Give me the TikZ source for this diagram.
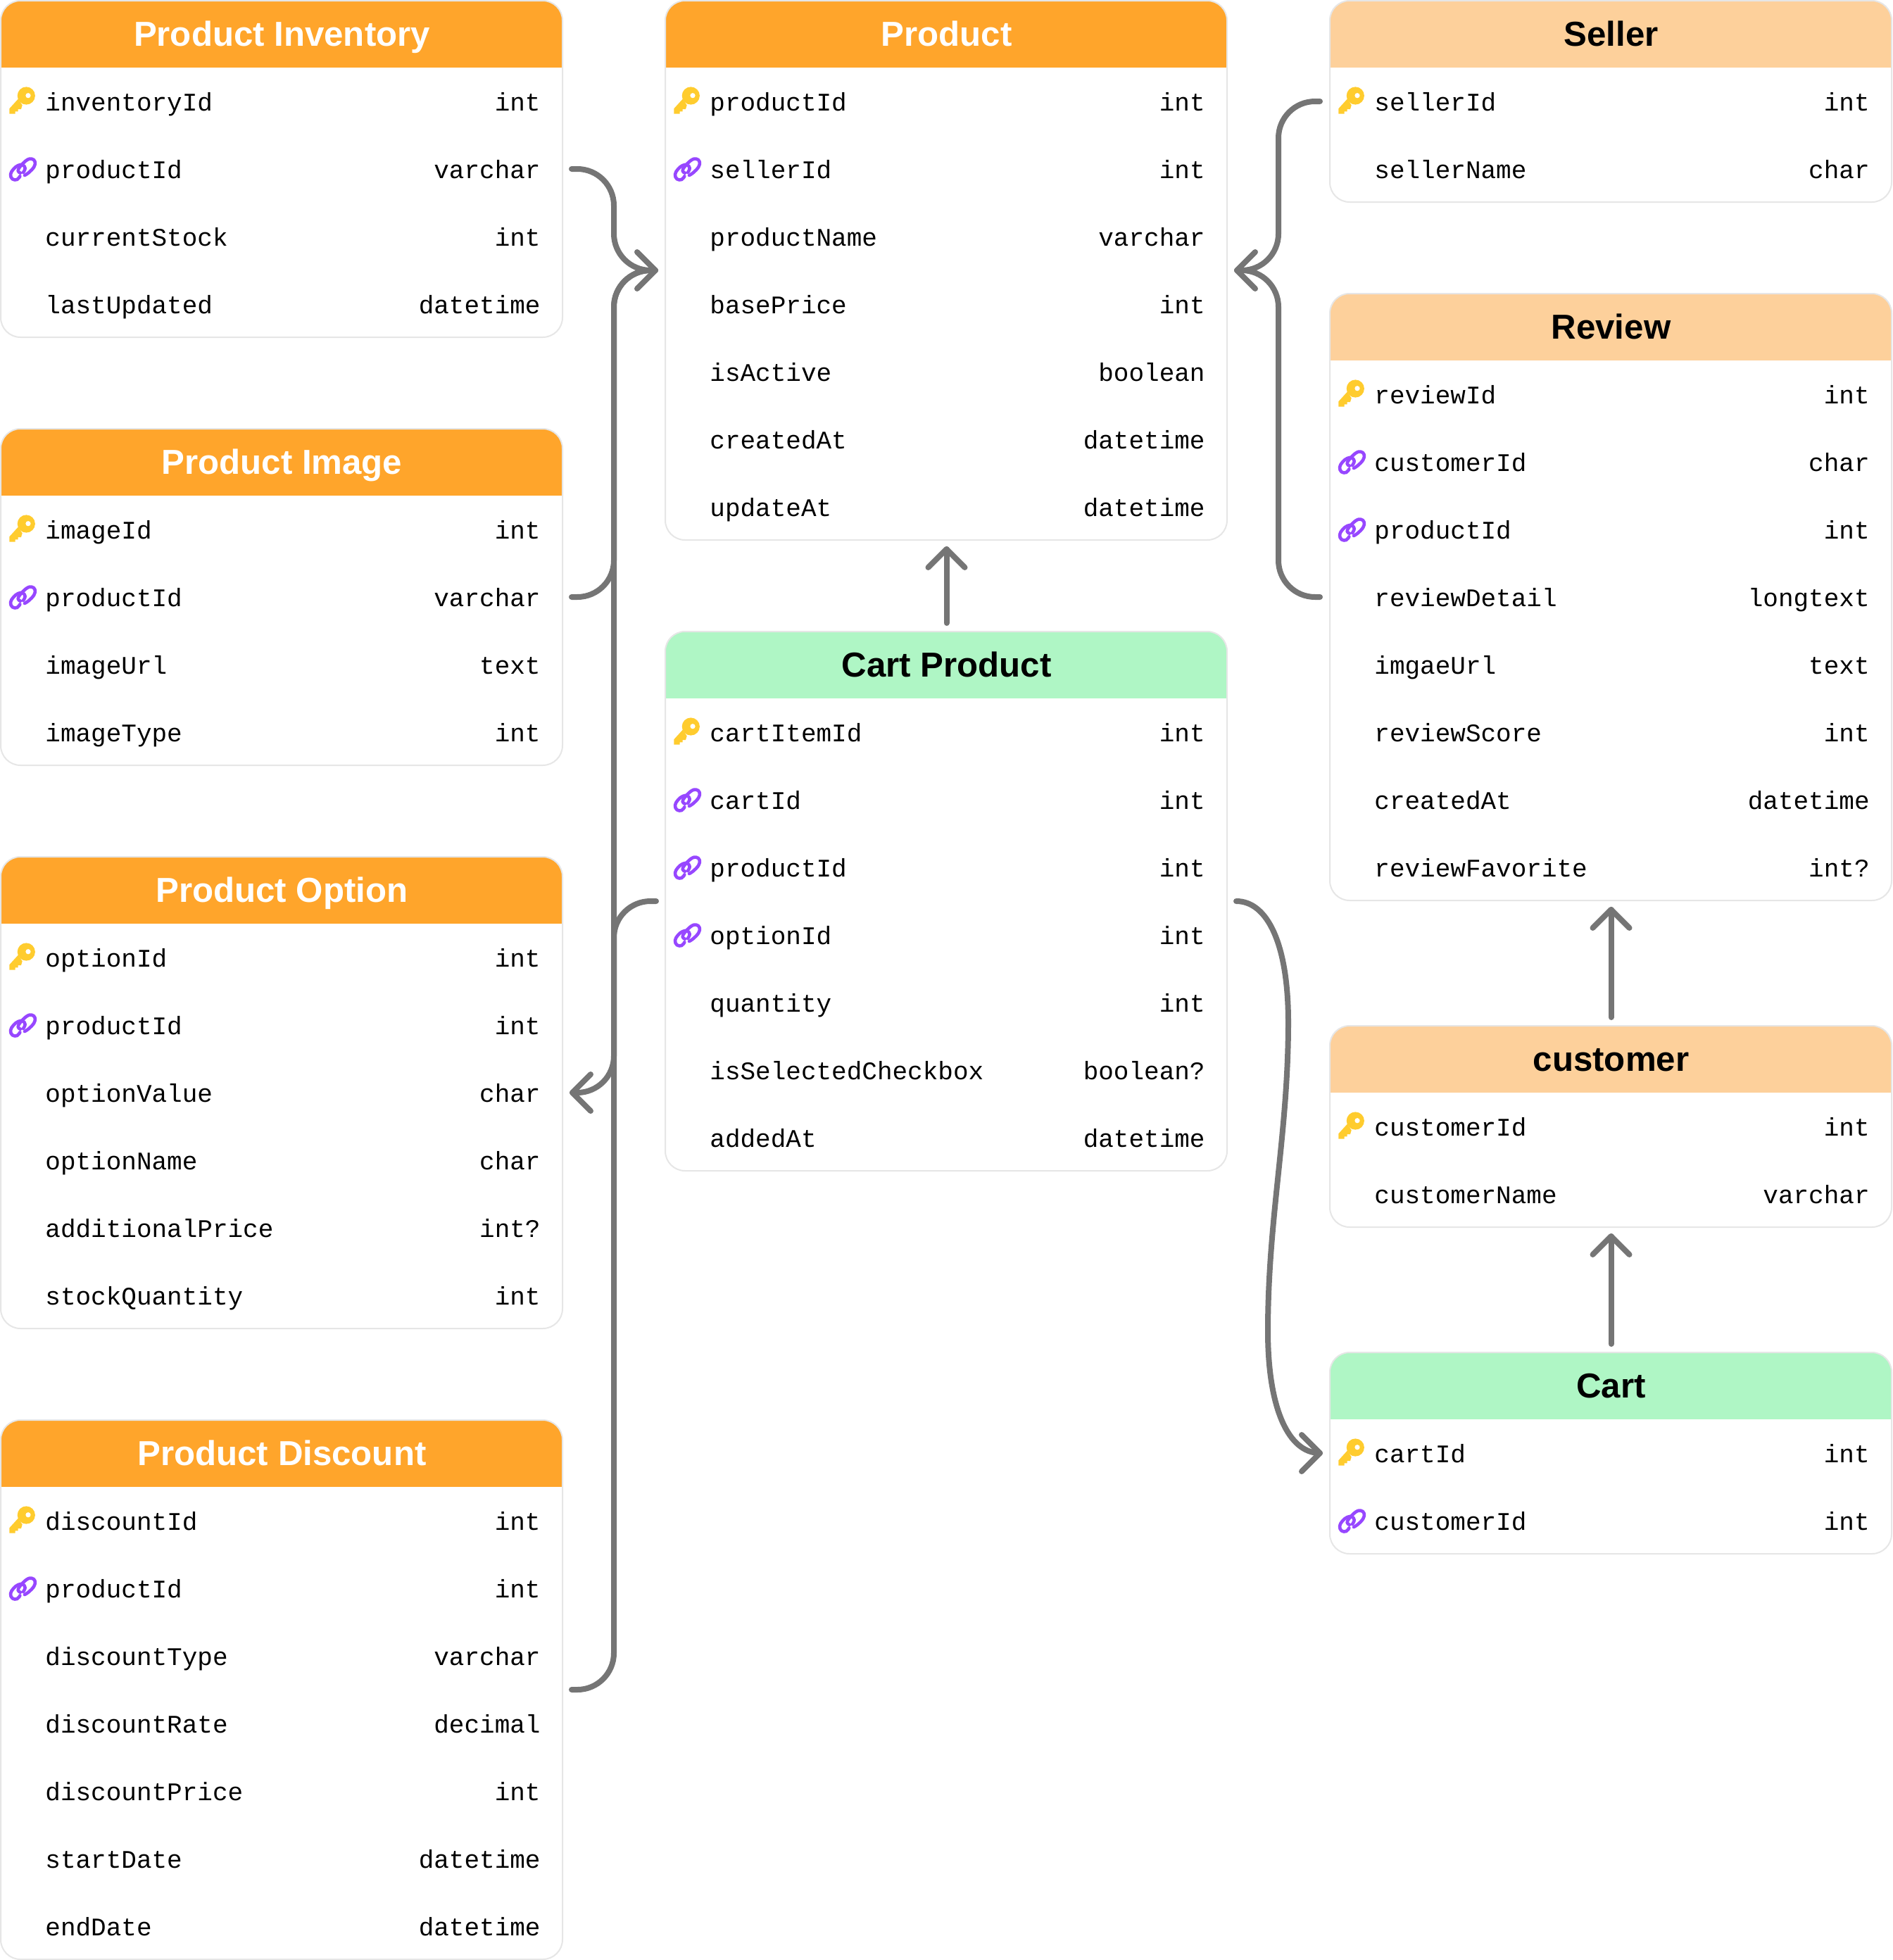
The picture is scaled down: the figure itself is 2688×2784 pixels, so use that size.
\documentclass[tikz,border=0pt]{standalone}
\usepackage{fontspec}
\setmainfont{Liberation Sans}
\setmonofont{Liberation Mono}
\usetikzlibrary{calc}
\definecolor{hdrorange}{HTML}{FFA52B}
\definecolor{hdrpeach}{HTML}{FDD09B}
\definecolor{hdrgreen}{HTML}{AFF6C5}
\definecolor{bordergrey}{HTML}{E6E6E6}
\definecolor{conngrey}{HTML}{757575}
\definecolor{keygold}{HTML}{FFCC2E}
\definecolor{linkpurple}{HTML}{9747FF}
\tikzset{
  x=0.5pt,y=-0.5pt,
  tablebox/.style={draw=bordergrey,line width=1pt,rounded corners=14pt,minimum width=399pt,inner sep=0pt,outer sep=0pt},
  titletext/.style={anchor=base,font=\fontsize{24.6}{28}\selectfont\bfseries,inner sep=0pt},
  nametext/.style={anchor=base west,font=\fontsize{18}{22}\selectfont\ttfamily,text=black,inner sep=0pt},
  typetext/.style={anchor=base east,font=\fontsize{18}{22}\selectfont\ttfamily,text=black,inner sep=0pt},
  conn/.style={draw=conngrey,line width=4pt,line cap=round,line join=round,rounded corners=26pt},
  chevron/.style={draw=conngrey,line width=4pt,line cap=round,line join=round},
}
\newcommand{\erdiconk}[2]{%
  \begin{scope}[shift={(#1,#2)}]
    \fill[keygold] (37.3,-8) circle[radius=6.3pt];
    \fill[keygold] (25.7,-3.3) -- (13.3,10.3) -- (13.3,17.7) -- (21.7,17.7) -- (21.7,14.3) -- (25.7,14.3) -- (25.7,11) -- (30,11) -- (31.7,5.3) -- cycle;
    \fill[white] (40,-8.3) circle[radius=1.8pt];
  \end{scope}}
\newcommand{\erdiconl}[2]{%
  \begin{scope}[shift={(#1,#2)},shift={(5,-25)},x=0.1667pt,y=-0.1667pt]
    \draw[linkpurple,line width=2.3pt,line cap=round,line join=round]
      plot[smooth,tension=.7] coordinates {(70,106) (58,120) (38,118) (30,98) (42,76) (62,60) (82,58) (92,72) (84,90)};
    \draw[linkpurple,line width=2.3pt,line cap=round,line join=round]
      plot[smooth,tension=.7] coordinates {(72,92) (62,84) (70,66) (98,38) (120,32) (134,44) (130,66) (108,90) (90,102)};
  \end{scope}}
\newcommand{\erdiconn}[2]{}
% name, x, y, title, header colour, title colour, row count, rows
\newcommand{\erdtable}[8]{%
  \pgfmathsetmacro{\tblH}{96+96*#7}
  \fill[white,rounded corners=14pt] (#2+1,#3+1) rectangle (#2+799,#3+\tblH-1);
  \begin{scope}
    \clip[rounded corners=14pt] (#2+1,#3+1) rectangle (#2+799,#3+\tblH-1);
    \fill[#5] (#2,#3) rectangle (#2+800,#3+96);
  \end{scope}
  \node[tablebox,minimum height={(\tblH-2)*0.5pt}] (#1) at ({#2+400},{#3+\tblH/2}) {};
  \node[titletext,text=#6] (#1-title) at ({#2+400.5},{#3+65}) {#4};
  \foreach \k/\n/\t [count=\i] in {#8} {
    \pgfmathsetmacro{\rowc}{#3+96+96*(\i-1)+48}
    \pgfmathsetmacro{\rowb}{\rowc+13.5}
    \csname erdicon\k\endcsname{#2}{\rowc}
    \node[nametext] (#1-n\i) at ({#2+64},\rowb) {\n};
    \node[typetext] (#1-t\i) at ({#2+768},\rowb) {\t};
  }%
}
\begin{document}
\begin{tikzpicture}
\useasboundingbox (0,0) rectangle (2688,2784);
\erdtable{inventory}{0}{0}{Product Inventory}{hdrorange}{white}{4}{k/inventoryId/int,l/productId/varchar,n/currentStock/int,n/lastUpdated/datetime}
\erdtable{image}{0}{608}{Product Image}{hdrorange}{white}{4}{k/imageId/int,l/productId/varchar,n/imageUrl/text,n/imageType/int}
\erdtable{option}{0}{1216}{Product Option}{hdrorange}{white}{6}{k/optionId/int,l/productId/int,n/optionValue/char,n/optionName/char,n/additionalPrice/int?,n/stockQuantity/int}
\erdtable{discount}{0}{2016}{Product Discount}{hdrorange}{white}{7}{k/discountId/int,l/productId/int,n/discountType/varchar,n/discountRate/decimal,n/discountPrice/int,n/startDate/datetime,n/endDate/datetime}
\erdtable{product}{944}{0}{Product}{hdrorange}{white}{7}{k/productId/int,l/sellerId/int,n/productName/varchar,n/basePrice/int,n/isActive/boolean,n/createdAt/datetime,n/updateAt/datetime}
\erdtable{cartproduct}{944}{896}{Cart Product}{hdrgreen}{black}{7}{k/cartItemId/int,l/cartId/int,l/productId/int,l/optionId/int,n/quantity/int,n/isSelectedCheckbox/boolean?,n/addedAt/datetime}
\erdtable{seller}{1888}{0}{Seller}{hdrpeach}{black}{2}{k/sellerId/int,n/sellerName/char}
\erdtable{review}{1888}{416}{Review}{hdrpeach}{black}{8}{k/reviewId/int,l/customerId/char,l/productId/int,n/reviewDetail/longtext,n/imgaeUrl/text,n/reviewScore/int,n/createdAt/datetime,n/reviewFavorite/int?}
\erdtable{customer}{1888}{1456}{customer}{hdrpeach}{black}{2}{k/customerId/int,n/customerName/varchar}
\erdtable{cart}{1888}{1920}{Cart}{hdrgreen}{black}{2}{k/cartId/int,l/customerId/int}

\coordinate (busL) at (872,0);
\coordinate (busR) at (1816,0);
\coordinate (inS) at ($(inventory.east)+(13,0)$);
\coordinate (imS) at ($(image.east)+(13,0)$);
\coordinate (diS) at ($(discount.east)+(13,0)$);
\coordinate (opT) at ($(option.east)+(14,0)$);
\coordinate (prL) at ($(product.west)+(-14,0)$);
\coordinate (prR) at ($(product.east)+(14,0)$);
\coordinate (cpL) at ($(cartproduct.west)+(-13,0)$);
\coordinate (cpR) at ($(cartproduct.east)+(13,0)$);
\coordinate (seS) at ($(seller.west)+(-14,0)$);
\coordinate (reS) at ($(review.west)+(-14,0)$);
\coordinate (caT) at ($(cart.west)+(-14,0)$);

% left bus
\draw[conn] (inS) -- (inS -| busL) -- (prL -| busL) -- (prL);
\draw[conn] (imS) -- (imS -| busL) -- (prL -| busL) -- (prL);
\draw[conn] (diS) -- (diS -| busL) -- (prL -| busL) -- (prL);
\draw[conn] (cpL) -- (cpL -| busL) -- (opT -| busL) -- (opT);
\draw[chevron] ($(prL)+(-26,-26)$) -- (prL) -- ($(prL)+(-26,26)$);
\draw[chevron] ($(opT)+(26,-26)$) -- (opT) -- ($(opT)+(26,26)$);
% right bus
\draw[conn] (seS) -- (seS -| busR) -- (prR -| busR) -- (prR);
\draw[conn] (reS) -- (reS -| busR) -- (prR -| busR) -- (prR);
\draw[chevron] ($(prR)+(26,-26)$) -- (prR) -- ($(prR)+(26,26)$);
% cart product to product
\coordinate (a1) at ($(cartproduct.north)+(0.5,-12)$);
\coordinate (a2) at ($(product.south)+(0.5,13)$);
\draw[chevron] (a1) -- (a2);
\draw[chevron] ($(a2)+(-26,26)$) -- (a2) -- ($(a2)+(26,26)$);
% customer to review
\coordinate (b1) at ($(customer.north)+(0.5,-12)$);
\coordinate (b2) at ($(review.south)+(0.5,13)$);
\draw[chevron] (b1) -- (b2);
\draw[chevron] ($(b2)+(-26,26)$) -- (b2) -- ($(b2)+(26,26)$);
% cart to customer
\coordinate (c1) at ($(cart.north)+(0.5,-12)$);
\coordinate (c2) at ($(customer.south)+(0.5,13)$);
\draw[chevron] (c1) -- (c2);
\draw[chevron] ($(c2)+(-26,26)$) -- (c2) -- ($(c2)+(26,26)$);
% cart product to cart
\coordinate (s1) at (1830,1452);
\coordinate (s2) at (1801,1891);
\draw[chevron] (cpR) .. controls (1800,1280) and (1830,1340) .. (s1)
   .. controls (1830,1610) and (1801,1730) .. (s2)
   .. controls (1801,2000) and (1830,2064) .. (caT);
\draw[chevron] ($(caT)+(-26,-26)$) -- (caT) -- ($(caT)+(-26,26)$);
\end{tikzpicture}
\end{document}
